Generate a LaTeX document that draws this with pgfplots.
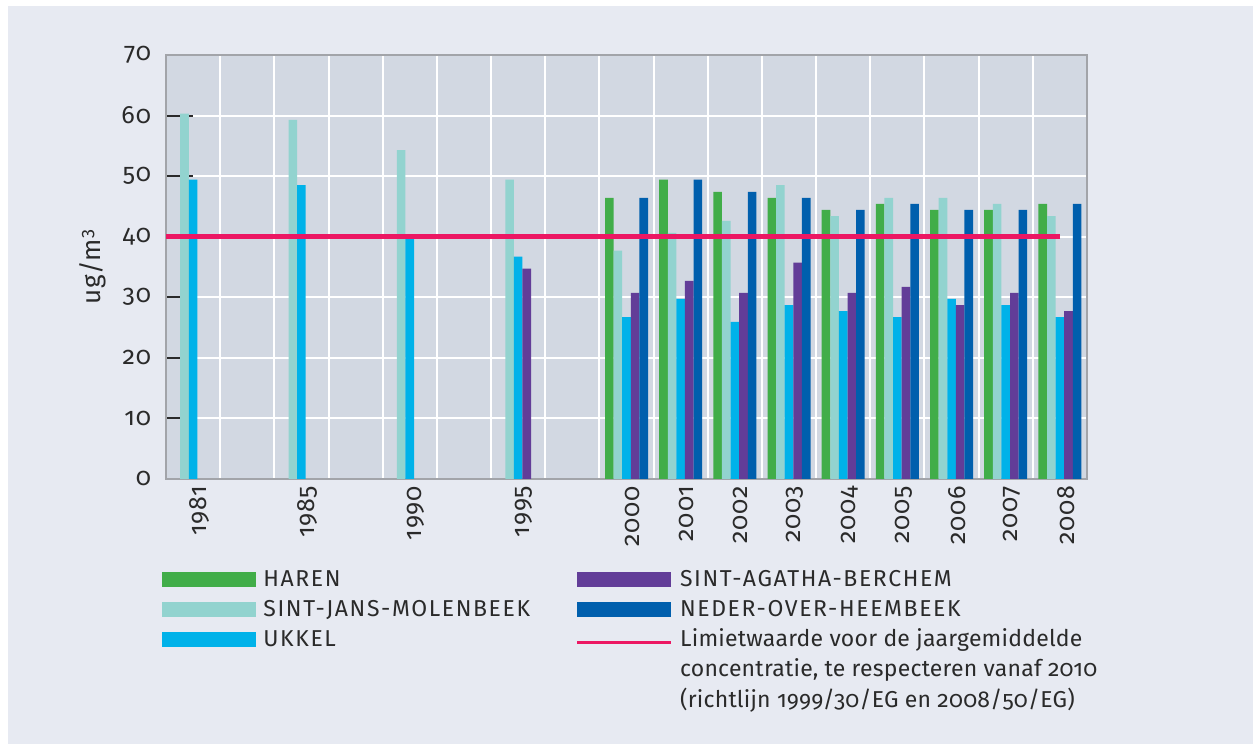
\documentclass[border=0pt]{standalone}
\usepackage{fontspec}
\IfFontExistsTF{FiraSans-Book.otf}{%
  \setmainfont{FiraSans-Book.otf}[Numbers=OldStyle, BoldFont=FiraSans-Regular.otf]}{%
  \IfFontExistsTF{FiraSans-Light.otf}{\setmainfont{FiraSans-Light.otf}[Numbers=OldStyle]}{\setmainfont{Fira Sans}[Numbers=OldStyle]}}
\usepackage{pgfplots}
\pgfplotsset{compat=1.18}
\usepackage{pgfplotstable}
\definecolor{haren}{HTML}{41AD49}
\definecolor{sjm}{HTML}{92D3CF}
\definecolor{ukkel}{HTML}{00B2E9}
\definecolor{agatha}{HTML}{623D98}
\definecolor{neder}{HTML}{005FAD}
\definecolor{limit}{HTML}{EC1763}
\definecolor{plotbg}{HTML}{D2D8E2}
\definecolor{pagebg}{HTML}{E7EAF2}
\definecolor{axisgray}{HTML}{A2A4A9}
\definecolor{textc}{HTML}{2A2A2A}
\pgfplotstableread{
x y
8 46.4
9 49.4
10 47.4
11 46.4
12 44.4
13 45.4
14 44.4
15 44.4
16 45.4
}\haren
\pgfplotstableread{
x y
0 60.3
2 59.3
4 54.3
6 49.4
8 37.7
9 40.6
10 42.6
11 48.5
12 43.4
13 46.4
14 46.4
15 45.4
16 43.4
}\sjm
\pgfplotstableread{
x y
0 49.4
2 48.5
4 39.8
6 36.7
8 26.7
9 29.7
10 25.9
11 28.7
12 27.7
13 26.7
14 29.7
15 28.7
16 26.7
}\ukkel
\pgfplotstableread{
x y
6 34.7
8 30.7
9 32.7
10 30.7
11 35.7
12 30.7
13 31.7
14 28.7
15 30.7
16 27.7
}\agatha
\pgfplotstableread{
x y
8 46.4
9 49.4
10 47.4
11 46.4
12 44.4
13 45.4
14 44.4
15 44.4
16 45.4
}\neder
\pgfplotsset{
  barleg/.style={legend image code/.code={\fill[##1,draw=none] (0pt,-3.75pt) rectangle (47pt,3.75pt);}},
  lineleg/.style={legend image code/.code={\draw[##1] (0pt,-1.5pt) -- (47pt,-1.5pt);}},
}
\newcommand{\caps}[1]{{\addfontfeatures{LetterSpace=7}#1}}
\begin{document}
\begin{tikzpicture}
\fill[white] (0,0) rectangle (626.5pt,372pt);
\fill[pagebg] (4pt,0) rectangle (626.5pt,369pt);
\begin{axis}[
  at={(83pt,132.6pt)}, anchor=south west,
  scale only axis, width=460.5pt, height=211.9pt,
  xmin=-0.5, xmax=16.5, ymin=0, ymax=70,
  axis background/.style={fill=plotbg},
  axis line style={draw=axisgray, line width=1.1pt},
  xtick={0,2,4,6,8,9,10,11,12,13,14,15,16},
  xticklabels={1981,1985,1990,1995,2000,2001,2002,2003,2004,2005,2006,2007,2008},
  minor xtick={-0.5,0.5,...,16.5},
  xminorgrids=true, xmajorgrids=false,
  ytick={0,10,...,70}, ymajorgrids=true,
  grid style={white, line width=1pt},
  minor grid style={white, line width=1pt},
  xtick style={draw=none},
  minor tick length=0pt,
  ytick pos=left, tick align=inside,
  major tick length=13.5pt,
  ytick style={draw=textc, line width=1pt},
  /pgf/number format/assume math mode=true,
  yticklabel style={font=\fontsize{12.5}{14}\selectfont\addfontfeatures{LetterSpace=3.5}, text=textc, xshift=-4pt},
  xticklabel style={font=\fontsize{12.5}{14}\selectfont\addfontfeatures{LetterSpace=3.5}, text=textc, rotate=90, anchor=east, yshift=-3pt},
  ylabel={ug/m\textsuperscript{3}},
  ylabel style={font=\fontsize{13}{15}\selectfont\addfontfeatures{LetterSpace=3}, text=textc, at={(axis description cs:-0.079,0.5)}, anchor=center},
  legend columns=2,
  legend style={at={(rel axis cs:0,0)}, anchor=north west, xshift=-2pt, yshift=-43.1pt,
    draw=none, fill=none, inner sep=0pt, row sep=1pt, column sep=0pt,
    font=\fontsize{11.5}{15.3}\selectfont, text=textc,
    cells={anchor=west, inner xsep=2pt, inner ysep=0pt, text height=8.5pt, text depth=2.5pt}},
]
\addplot[ybar, bar width=4.3pt, bar shift=-8.6pt, fill=haren, draw=none, forget plot] table {\haren};
\addplot[ybar, bar width=4.3pt, bar shift=-4.3pt, fill=sjm, draw=none, forget plot] table {\sjm};
\addplot[ybar, bar width=4.3pt, bar shift=0pt, fill=ukkel, draw=none, forget plot] table {\ukkel};
\addplot[ybar, bar width=4.3pt, bar shift=4.3pt, fill=agatha, draw=none, forget plot] table {\agatha};
\addplot[ybar, bar width=4.3pt, bar shift=8.6pt, fill=neder, draw=none, forget plot] table {\neder};
\addplot[limit, line width=2.2pt, forget plot] coordinates {(-0.5,40) (16,40)};
\addlegendimage{barleg, fill=haren}
\addlegendentry{\hspace{1.5pt}\makebox[154pt][l]{\caps{HAREN}}}
\addlegendimage{barleg, fill=agatha}
\addlegendentry{\hspace{1.5pt}\caps{SINT-AGATHA-BERCHEM}}
\addlegendimage{barleg, fill=sjm}
\addlegendentry{\hspace{1.5pt}\makebox[154pt][l]{\caps{SINT-JANS-MOLENBEEK}}}
\addlegendimage{barleg, fill=neder}
\addlegendentry{\hspace{1.5pt}\caps{NEDER-OVER-HEEMBEEK}}
\addlegendimage{barleg, fill=ukkel}
\addlegendentry{\hspace{1.5pt}\makebox[154pt][l]{\caps{UKKEL}}}
\addlegendimage{lineleg, draw=limit, line width=1.85pt}
\addlegendentry{\hspace{1.5pt}\addfontfeatures{LetterSpace=1}\begin{tabular}[t]{@{}l@{}}Limietwaarde voor de jaargemiddelde\\concentratie, te respecteren vanaf 2010\\(richtlijn 1999/30/EG en 2008/50/EG)\end{tabular}}
\end{axis}
\end{tikzpicture}
\end{document}
